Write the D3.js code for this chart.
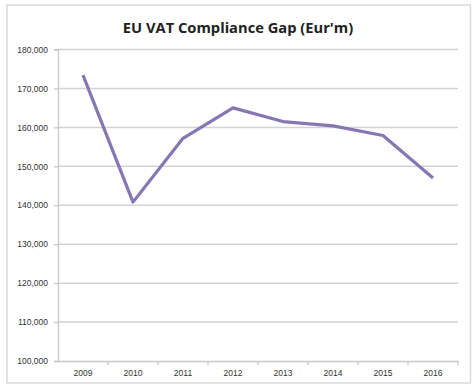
<!DOCTYPE html>
<html>
<head>
<meta charset="utf-8">
<script src="https://cdn.jsdelivr.net/npm/d3@7"></script>
<style>
  body { margin: 0; background: #fff; }
  svg { display: block; }
</style>
</head>
<body>
<svg id="chart"></svg>
<script>
const years = ['2009', '2010', '2011', '2012', '2013', '2014', '2015', '2016']
const gap = [173400, 140800, 157200, 165000, 161500, 160400, 157900, 147000]
const yTicks = [100000, 110000, 120000, 130000, 140000, 150000, 160000, 170000, 180000]
const title = "EU VAT Compliance Gap (Eur'm)"

function renderLineChart (svgId) {
  const dimensions = { width: 475, height: 386 }
  const margin = { top: 49.5, right: 17, bottom: 25, left: 58 }

  const svg = d3.select(`#${svgId}`)
    .attr('width', dimensions.width)
    .attr('height', dimensions.height)

  // chart frame
  svg.append('rect')
    .attr('x', 7)
    .attr('y', 5)
    .attr('width', 463.5)
    .attr('height', 378)
    .attr('fill', '#fff')
    .attr('stroke', '#d9d9d9')
    .attr('stroke-width', 1.5)

  svg.append('text')
    .attr('x', 238)
    .attr('y', 33)
    .attr('text-anchor', 'middle')
    .attr('font-family', 'Open Sans, sans-serif')
    .attr('font-weight', 'bold')
    .attr('font-size', 14.7)
    .attr('fill', '#222')
    .text(title)

  const x = d3.scaleBand()
    .domain(years)
    .range([margin.left, dimensions.width - margin.right])

  const y = d3.scaleLinear()
    .domain([100000, 180000])
    .range([dimensions.height - margin.bottom, margin.top])

  // gridlines
  svg.append('g')
    .selectAll('line').data(yTicks.slice(1)).enter().append('line')
    .attr('x1', margin.left)
    .attr('x2', dimensions.width - margin.right)
    .attr('y1', d => y(d))
    .attr('y2', d => y(d))
    .attr('stroke', '#d3d3d3')
    .attr('stroke-width', 1.5)

  const yAxis = g => g
    .attr('transform', `translate(${margin.left},0)`)
    .call(d3.axisLeft(y).tickValues(yTicks).tickSize(4).tickFormat(d3.format(',')))
    .call(g => g.selectAll('.domain, line').attr('stroke', '#c8c8c8').attr('stroke-width', 1.3))
    .call(g => g.selectAll('text')
      .attr('x', -10)
      .attr('font-family', 'Liberation Sans, sans-serif')
      .attr('font-size', 8.5)
      .attr('fill', '#333'))

  const xAxis = g => g
    .attr('transform', `translate(0,${dimensions.height - margin.bottom})`)
    .call(d3.axisBottom(x).tickSize(0))
    .call(g => g.select('.domain').attr('stroke', '#c8c8c8').attr('stroke-width', 1.3))
    .call(g => g.selectAll('text')
      .attr('dy', '1.4em')
      .attr('font-family', 'Liberation Sans, sans-serif')
      .attr('font-size', 8.5)
      .attr('fill', '#333'))

  svg.append('g').call(yAxis)
  svg.append('g').call(xAxis)

  // small tick marks between categories
  svg.append('g')
    .selectAll('line').data(years).enter().append('line')
    .attr('x1', d => x(d) + x.bandwidth())
    .attr('x2', d => x(d) + x.bandwidth())
    .attr('y1', y(100000))
    .attr('y2', y(100000) + 4)
    .attr('stroke', '#c8c8c8')
    .attr('stroke-width', 1.3)

  const line = d3.line()
    .x((d, i) => x(years[i]) + x.bandwidth() / 2)
    .y(d => y(d))

  svg.append('path')
    .datum(gap)
    .attr('d', line)
    .attr('fill', 'none')
    .attr('stroke', '#8677b3')
    .attr('stroke-width', 3.2)
    .attr('stroke-linejoin', 'round')
}

renderLineChart('chart')
</script>
</body>
</html>
